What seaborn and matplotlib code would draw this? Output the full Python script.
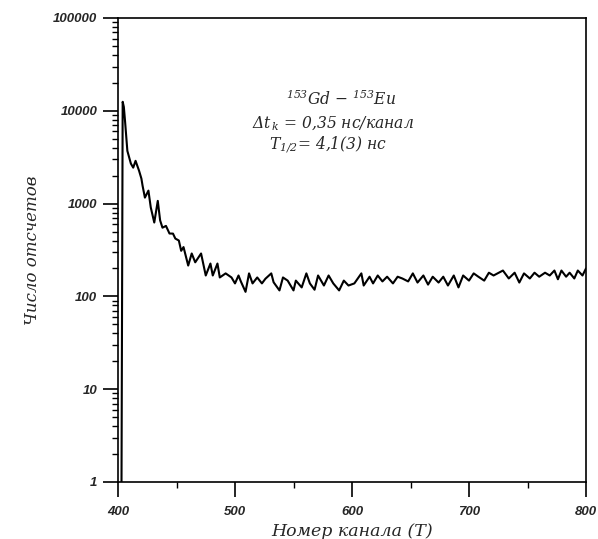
import numpy as np
import pandas as pd
import matplotlib
matplotlib.use("Agg")
import matplotlib.pyplot as plt
import matplotlib.ticker as mticker
import seaborn as sns

# ---- data ----
channels_decay = [403, 404, 405, 406, 408, 411, 413, 415, 418, 420, 421, 423, 426, 428, 431,
                  434, 436, 438, 441, 444, 447, 449, 452, 454, 456, 460, 463, 466, 471, 475,
                  479, 481, 485, 487, 492, 497, 500]
counts_decay = [1, 12500, 11000, 7800, 3700, 2700, 2440, 2890, 2260, 1860, 1560, 1160, 1380, 910, 625,
                1070, 660, 550, 575, 476, 475, 420, 400, 310, 340, 215, 290, 233, 290, 168,
                226, 168, 226, 160, 177, 160, 138]
channels_flat = [503, 505, 509, 512, 515, 519, 523, 526, 531, 533, 538, 541, 545, 550, 552, 557,
                 561, 564, 568, 571, 576, 580, 584, 589, 593, 597, 602,
                 608, 610, 615, 618, 622, 626, 630, 635, 639, 643, 648, 652, 656, 661, 665, 669,
                 674, 678, 682, 687, 691, 695, 700, 704,
                 708, 713, 717, 721, 729, 734, 739, 743, 747, 752, 756, 760, 765, 769, 773, 776,
                 779, 783, 786, 790, 793, 797, 800]
counts_flat = [168, 145, 112, 177, 138, 160, 138, 155, 177, 142, 116, 160, 148, 116, 148, 125,
               177, 138, 118, 168, 131, 168, 138, 116, 148, 131, 138,
               177, 131, 163, 138, 168, 145, 163, 138, 163, 156, 145, 177, 141, 168, 134, 163,
               141, 163, 131, 168, 125, 168, 148, 177,
               163, 148, 180, 168, 190, 156, 180, 141, 177, 156, 180, 163, 180, 168, 190, 153,
               190, 163, 180, 156, 190, 168, 200]

x_ticks = [400, 500, 600, 700, 800]
y_ticks = [1, 10, 100, 1000, 10000, 100000]
y_tick_labels = ["1", "10", "100", "1000", "10000", "100000"]

title_lines = [r"$^{153}$Gd $-$ $^{153}$Eu",
               r"$\Delta t_{\,k}$ = 0,35 нс/канал",
               r"$T_{1/2}$= 4,1(3) нс"]
x_label = "Номер канала (T)"
y_label = "Число отсчетов"

df = pd.DataFrame({"channel": channels_decay + channels_flat,
                   "counts": counts_decay + counts_flat})

sns.set_style("ticks")
plt.rcParams["font.family"] = ["DejaVu Serif", "Liberation Serif"]
plt.rcParams["mathtext.fontset"] = "custom"
plt.rcParams["mathtext.rm"] = "DejaVu Serif:italic"
plt.rcParams["mathtext.it"] = "DejaVu Serif:italic"
plt.rcParams["mathtext.bf"] = "DejaVu Serif:italic:bold"

fig = plt.figure(figsize=(5.98, 5.39), dpi=100)
ax = fig.add_axes([118 / 598, 1 - 482 / 539, (586 - 118) / 598, (482 - 18) / 539])

sns.lineplot(data=df, x="channel", y="counts", ax=ax, color="black", linewidth=1.5,
             estimator=None, sort=False)

ax.set_yscale("log")
ax.set_xlim(400, 800)
ax.set_ylim(1, 100000)

ax.set_xticks(x_ticks)
ax.set_xticks([450, 550, 650, 750], minor=True)
ax.set_yticks(y_ticks)
ax.set_yticklabels(y_tick_labels)
ax.yaxis.set_minor_locator(mticker.LogLocator(base=10, subs=np.arange(2, 10), numticks=20))
ax.yaxis.set_minor_formatter(mticker.NullFormatter())

for sp in ax.spines.values():
    sp.set_visible(True)
    sp.set_linewidth(1.2)
    sp.set_color("black")

ax.tick_params(axis="both", which="major", direction="out", length=11, width=1.2, color="black")
ax.tick_params(axis="both", which="minor", direction="out", length=4.5, width=1.0, color="black")
ax.tick_params(axis="y", which="major", pad=4)
ax.tick_params(axis="x", which="major", pad=6)
for lab in ax.get_xticklabels() + ax.get_yticklabels():
    lab.set_fontfamily(["Liberation Sans", "DejaVu Sans"])
    lab.set_fontstyle("italic")
    lab.set_fontweight("bold")
    lab.set_fontsize(9.5)

ax.set_xlabel(x_label, fontsize=12.5, fontstyle="italic", labelpad=4)
ax.set_ylabel(y_label, fontsize=12, fontstyle="italic")
ax.yaxis.set_label_coords(-0.165, 0.5)

ys = [0.812, 0.762, 0.716]
xs = [0.476, 0.460, 0.449]
for t, xx, yy in zip(title_lines, xs, ys):
    ax.text(xx, yy, t, transform=ax.transAxes, ha="center", va="baseline",
            fontsize=11.2, fontstyle="italic")

fig.savefig("out.png", dpi=100)
